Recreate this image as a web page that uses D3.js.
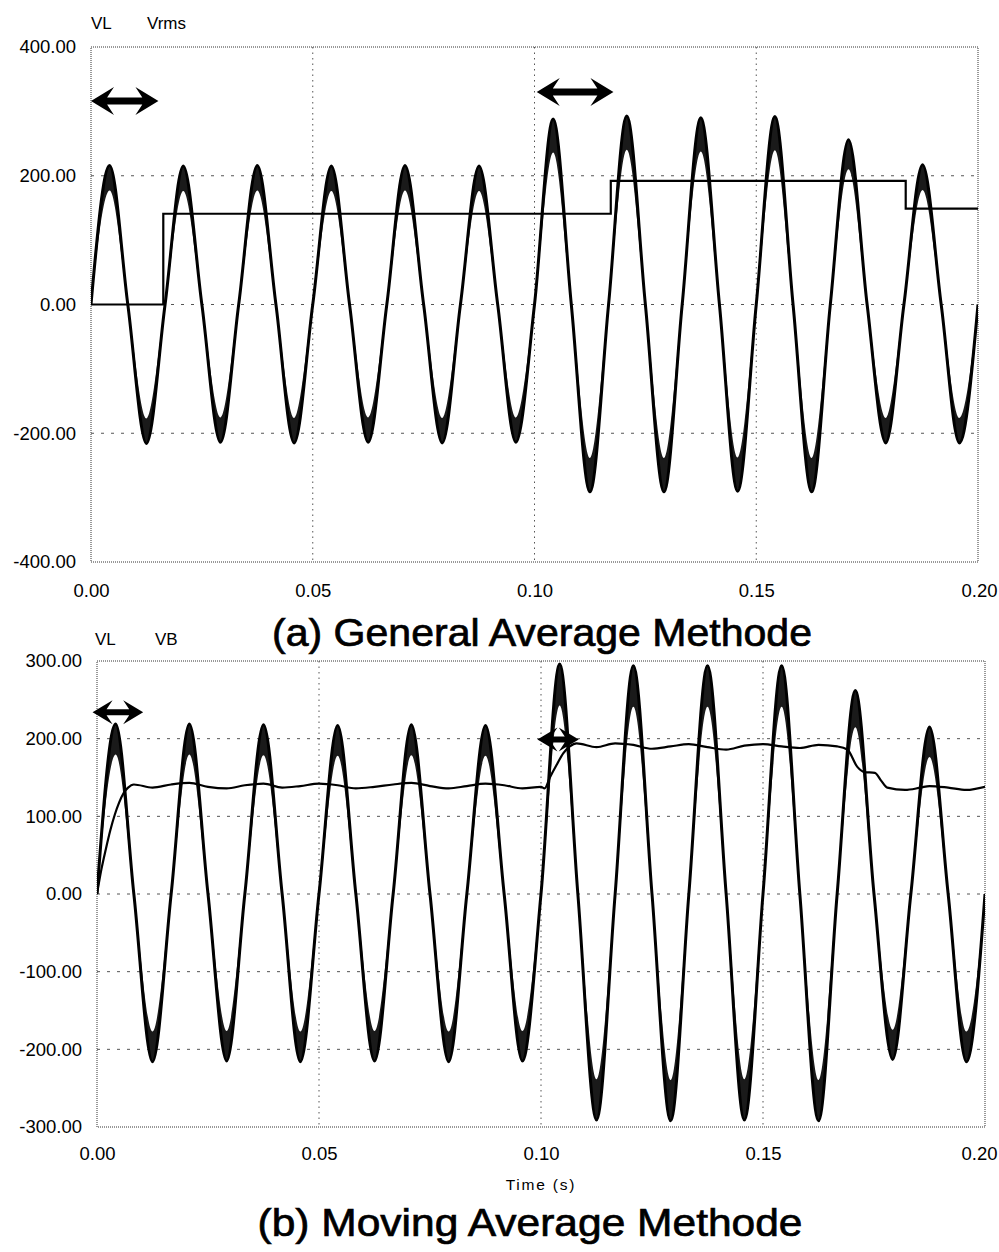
<!DOCTYPE html>
<html>
<head>
<meta charset="utf-8">
<script src="https://cdn.jsdelivr.net/npm/d3@7/dist/d3.min.js"></script>
<style>
  html, body { margin: 0; padding: 0; background: #fff; }
  svg { display: block; }
  text { font-family: "Liberation Sans", Arial, sans-serif; fill: #000; }
</style>
</head>
<body>
<svg id="chart" width="999" height="1252"></svg>
<script>
// ---------------- DATA ----------------
// sample times (quarter-cycle points of the 60 Hz load voltage), seconds
const vlTime = [0, 0.0042, 0.0083, 0.0125, 0.0167, 0.0208, 0.025, 0.0292, 0.0333, 0.0375,
  0.0417, 0.0458, 0.05, 0.0542, 0.0583, 0.0625, 0.0667, 0.0708, 0.075, 0.0792,
  0.0833, 0.0875, 0.0917, 0.0958, 0.1, 0.1042, 0.1083, 0.1125, 0.1167, 0.1208,
  0.125, 0.1292, 0.1333, 0.1375, 0.1417, 0.1458, 0.15, 0.1542, 0.1583, 0.1625,
  0.1667, 0.1708, 0.175, 0.1792, 0.1833, 0.1875, 0.1917, 0.1958, 0.2];

// VL, panel (a)
const vlA = [0, 216, 0, -216, 0, 215, 0, -214, 0, 216,
  0, -215, 0, 215, 0, -214, 0, 216, 0, -215,
  0, 215, 0, -214, 0, 288, 0, -291, 0, 293,
  0, -291, 0, 290, 0, -290, 0, 292, 0, -291,
  0, 256, 0, -215, 0, 217, 0, -215, 0];

// Vrms, panel (a) (step line)
const rmsTime = [0, 0.0163, 0.1172, 0.1837, 0.2];
const rmsValue = [0, 141, 192, 149, 149];

// VL, panel (b)
const vlB = [0, 219, 0, -216, 0, 219, 0, -215, 0, 218,
  0, -216, 0, 217, 0, -215, 0, 218, 0, -216,
  0, 217, 0, -215, 0, 296, 0, -291, 0, 294,
  0, -292, 0, 294, 0, -291, 0, 294, 0, -292,
  0, 262, 0, -213, 0, 215, 0, -216, 0];

// VB, panel (b) (moving average)
const vbTime = [0, 0.001, 0.002, 0.003, 0.004, 0.005, 0.006, 0.007, 0.0083,
  0.0125, 0.0167, 0.0208, 0.025, 0.0292, 0.0333, 0.0375, 0.0417, 0.0458, 0.05,
  0.0542, 0.0583, 0.0625, 0.0667, 0.0708, 0.075, 0.0792, 0.0833, 0.0875, 0.0917,
  0.0958, 0.1, 0.1008, 0.102, 0.1035, 0.105, 0.1065, 0.108,
  0.1125, 0.1167, 0.1208, 0.125, 0.1292, 0.1333, 0.1375, 0.1417, 0.1458, 0.15,
  0.1542, 0.1583, 0.1625, 0.1667, 0.169, 0.1712, 0.1728, 0.1752, 0.1766, 0.178,
  0.182, 0.1855, 0.1875, 0.1917, 0.1958, 0.2];
const vbValue = [0, 32, 58, 82, 102, 118, 130, 137, 141,
  137, 141, 143, 138, 136, 140, 142, 137, 139, 142,
  140, 136, 138, 141, 143, 139, 136, 139, 142, 140,
  136, 138, 136, 150, 166, 181, 190, 194,
  189, 194, 192, 187, 190, 193, 189, 186, 191, 193,
  190, 188, 192, 190, 186, 164, 157, 156, 146, 137,
  134, 137, 139, 137, 134, 138];

// axes
const timeTicks = [0, 0.05, 0.1, 0.15, 0.2];
const yTicksA = [-400, -200, 0, 200, 400];
const yTicksB = [-300, -200, -100, 0, 100, 200, 300];
const gridA = [-200, 0, 200];
const gridB = [-200, -100, 0, 100, 200];
const vGrid = [0.05, 0.1, 0.15];

// annotations (double arrows), in data units
const arrowsA = [{t0: 0, t1: 0.0152, v: 316}, {t0: 0.1005, t1: 0.1178, v: 330}];
const arrowsB = [{t0: -0.001, t1: 0.0104, v: 234}, {t0: 0.0992, t1: 0.1085, v: 199}];

const legendA = ["VL", "Vrms"];
const legendB = ["VL", "VB"];
const titleA = "(a) General Average Methode";
const titleB = "(b) Moving Average Methode";
const xTitle = "Time (s)";

// ---------------- DRAW ----------------
const svg = d3.select("#chart");
const fmt = d => d.toFixed(2);

function panel(cfg) {
  const {id, left, right, top, bottom, yDomain, yTicks, hGrid, vl, legend, legendX, legendY, xLabelY} = cfg;
  const x = d3.scaleLinear().domain([0, 0.2]).range([left, right]);
  const y = d3.scaleLinear().domain(yDomain).range([bottom, top]);
  const g = svg.append("g");

  g.append("clipPath").attr("id", "clip" + id)
    .append("rect").attr("x", left).attr("y", top).attr("width", right - left).attr("height", bottom - top);

  // grid
  g.selectAll(".hg").data(hGrid).join("line")
    .attr("x1", left).attr("x2", right).attr("y1", d => y(d)).attr("y2", d => y(d))
    .attr("stroke", "#555").attr("stroke-width", 1).attr("stroke-dasharray", "3,7");
  g.selectAll(".vg").data(vGrid).join("line")
    .attr("x1", d => x(d)).attr("x2", d => x(d)).attr("y1", top).attr("y2", bottom)
    .attr("stroke", "#555").attr("stroke-width", 1).attr("stroke-dasharray", "1.5,4");

  // border
  g.append("rect").attr("x", left).attr("y", top).attr("width", right - left).attr("height", bottom - top)
    .attr("fill", "none").attr("stroke", "#333").attr("stroke-width", 1).attr("stroke-dasharray", "1,1");

  // y axis labels
  const ya = d3.axisLeft(y).tickValues(yTicks).tickFormat(fmt).tickSize(0).tickPadding(15);
  const yg = g.append("g").attr("transform", `translate(${left},0)`).call(ya);
  yg.select(".domain").remove();
  yg.selectAll("text").style("font-size", "18.5px").style("font-family", "'Liberation Sans', Arial, sans-serif");

  // x axis labels
  const xa = d3.axisBottom(x).tickValues(timeTicks).tickFormat(fmt).tickSize(0).tickPadding(0);
  const xg = g.append("g").attr("transform", `translate(0,${xLabelY})`).call(xa);
  xg.select(".domain").remove();
  xg.selectAll("text").attr("dy", 0).attr("y", 0).style("font-size", "18.5px")
    .style("font-family", "'Liberation Sans', Arial, sans-serif");
  // keep the last label inside the page
  xg.selectAll(".tick").filter(d => d === 0.2).select("text")
    .attr("text-anchor", "end").attr("x", Math.min(20, 997 - right));

  // legend labels
  g.selectAll(".lg").data(legend).join("text")
    .attr("x", (d, i) => legendX[i]).attr("y", legendY)
    .style("font-size", "17px").text(d => d);

  const plot = g.append("g").attr("clip-path", `url(#clip${id})`);
  const pts = vlTime.map((t, i) => [t, vl[i]]);

  // ripple-filled crest band of the load voltage
  const band = d3.area().curve(d3.curveMonotoneX)
    .x(d => x(d[0])).y0(d => y(d[1] * 0.82)).y1(d => y(d[1]));
  plot.append("path").attr("d", band(pts)).attr("fill", "#1a1a1a");
  const line = d3.line().curve(d3.curveMonotoneX).x(d => x(d[0])).y(d => y(d[1]));
  plot.append("path").attr("d", line(pts)).attr("fill", "none")
    .attr("stroke", "#000").attr("stroke-width", 3).attr("stroke-linejoin", "round");

  return {x, y, g, plot};
}

function drawArrows(g, x, y, arrows, headLen, headHalf, shaft) {
  g.selectAll(".arr").data(arrows).join("path")
    .attr("d", a => {
      const x1 = x(a.t0), x2 = x(a.t1), yy = y(a.v);
      const s = shaft / 2, b = headLen * 0.7;
      return `M${x1},${yy} L${x1 + headLen},${yy - headHalf} L${x1 + b},${yy - s} L${x2 - b},${yy - s}` +
        ` L${x2 - headLen},${yy - headHalf} L${x2},${yy} L${x2 - headLen},${yy + headHalf} L${x2 - b},${yy + s}` +
        ` L${x1 + b},${yy + s} L${x1 + headLen},${yy + headHalf} Z`;
    })
    .attr("fill", "#000");
}

// Panel (a)
const pA = panel({id: "a", left: 91, right: 978, top: 47, bottom: 562,
  yDomain: [-400, 400], yTicks: yTicksA, hGrid: gridA, vl: vlA,
  legend: legendA, legendX: [91, 147], legendY: 29, xLabelY: 597});
const rmsLine = d3.line().curve(d3.curveStepAfter).x((d, i) => pA.x(rmsTime[i])).y(d => pA.y(d));
pA.plot.append("path").attr("d", rmsLine(rmsValue)).attr("fill", "none")
  .attr("stroke", "#000").attr("stroke-width", 2.2);
drawArrows(pA.g, pA.x, pA.y, arrowsA, 23, 14, 7);

// Panel (b)
const pB = panel({id: "b", left: 97, right: 985, top: 661, bottom: 1127,
  yDomain: [-300, 300], yTicks: yTicksB, hGrid: gridB, vl: vlB,
  legend: legendB, legendX: [95, 155], legendY: 645, xLabelY: 1160});
const vbLine = d3.line().curve(d3.curveMonotoneX).x((d, i) => pB.x(vbTime[i])).y(d => pB.y(d));
pB.plot.append("path").attr("d", vbLine(vbValue)).attr("fill", "none")
  .attr("stroke", "#000").attr("stroke-width", 2.2);
drawArrows(pB.g, pB.x, pB.y, arrowsB, 20, 12, 6);

// titles
svg.append("text").attr("x", 542).attr("y", 646).attr("text-anchor", "middle")
  .attr("textLength", 540).attr("lengthAdjust", "spacingAndGlyphs")
  .style("font-size", "39px").style("stroke", "#000").style("stroke-width", "0.7px").text(titleA);
svg.append("text").attr("x", 530).attr("y", 1236).attr("text-anchor", "middle")
  .attr("textLength", 545).attr("lengthAdjust", "spacingAndGlyphs")
  .style("font-size", "39px").style("stroke", "#000").style("stroke-width", "0.7px").text(titleB);
svg.append("text").attr("x", 541).attr("y", 1190).attr("text-anchor", "middle")
  .style("font-size", "15.5px").style("letter-spacing", "1.8px").text(xTitle);
</script>
</body>
</html>
